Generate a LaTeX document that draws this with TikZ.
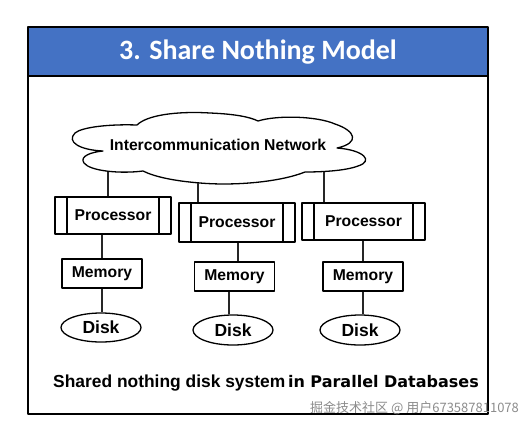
\documentclass[tikz,border=0pt]{standalone}
\usepackage{fontspec}
\setmainfont{Liberation Sans}
\newfontfamily\titlefont{Carlito}
\newfontfamily\dejavu{DejaVu Sans}
\newfontfamily\cjkfont{Noto Sans CJK SC}
\usetikzlibrary{shapes.geometric}
\definecolor{bandblue}{HTML}{4472C4}
\begin{document}
\begin{tikzpicture}[x=1pt,y=-1pt,
  line join=round,
  boxline/.style={draw=black, line width=1.3pt},
  lbl/.style={font=\bfseries\fontsize{15.7}{18}\selectfont},
  procbox/.style={boxline, rectangle, inner sep=0pt, lbl,
    minimum height=37pt,
    path picture={
      \draw[line width=1.3pt] ([xshift=12pt]path picture bounding box.north west) -- ([xshift=12pt]path picture bounding box.south west);
      \draw[line width=1.3pt] ([xshift=-12pt]path picture bounding box.north east) -- ([xshift=-12pt]path picture bounding box.south east);
    }},
  membox/.style={boxline, rectangle, inner sep=0pt, lbl, minimum width=80pt, minimum height=29pt},
  diskbox/.style={boxline, ellipse, inner sep=0pt, font=\bfseries\fontsize{17.5}{20}\selectfont, minimum width=80pt, minimum height=29pt},
  wire/.style={draw=black!85, line width=1.2pt}
]
\useasboundingbox (0,0) rectangle (526,429);
% frame and title band
\fill[white] (28,27) rectangle (488,414);
\fill[bandblue] (28,27) rectangle (488,76);
\draw[line width=1.5pt] (28,76) -- (488,76);
\draw[line width=1.5pt] (28,27) rectangle (488,414);
\node[text=white, font=\titlefont\bfseries\fontsize{28}{32}\selectfont] (title) at (258,52) {3. Share Nothing Model};

% cloud
\draw[line width=1.3pt, fill=white]
  (103,151) .. controls (80,150) and (66,142) .. (75,133)
  .. controls (82,127) and (110,124) .. (137,125)
  .. controls (147,115) and (177,111) .. (210,113)
  .. controls (235,114) and (250,117) .. (258,121)
  .. controls (277,115) and (317,116) .. (335,124)
  .. controls (356,131) and (360,143) .. (337,148)
  .. controls (364,150) and (374,161) .. (358,166)
  .. controls (345,171) and (320,172) .. (305,172)
  .. controls (280,182) and (235,186) .. (200,183)
  .. controls (175,181) and (155,177) .. (143,171)
  .. controls (120,174) and (90,171) .. (84,163)
  .. controls (79,156) and (92,152) .. (103,151) -- cycle;
\node[lbl] (net) at (218,145) {Intercommunication Network};
\coordinate (c1) at (108,172);
\coordinate (c2) at (198,183);
\coordinate (c3) at (324,172);

% processors
\node[procbox, minimum width=116pt] (p1) at (113,215.5) {Processor};
\node[procbox, minimum width=116pt, minimum height=39pt] (p2) at (237,222.5) {Processor};
\node[procbox, minimum width=123pt] (p3) at (363.5,221.5) {Processor};

% memories
\node[membox] (m1) at (102,273.5) {Memory};
\node[membox] (m2) at (234.5,276.5) {Memory};
\node[membox] (m3) at (363,276.5) {Memory};

% disks
\node[diskbox] (d1) at (101,327.5) {Disk};
\node[diskbox, minimum height=30pt] (d2) at (233,330) {Disk};
\node[diskbox, minimum height=30pt] (d3) at (360,330) {Disk};

% connectors
\draw[wire] (c1) -- (c1 |- p1.north);
\draw[wire] (c2) -- (c2 |- p2.north);
\draw[wire] (c3) -- (c3 |- p3.north);
\draw[wire] (m1.north |- p1.south) -- (m1.north);
\draw[wire] ([xshift=3.5pt]m2.north |- p2.south) -- ([xshift=3.5pt]m2.north);
\draw[wire] (m3.north |- p3.south) -- (m3.north);
\draw[wire] (m1.south) -- (m1.south |- d1.north);
\draw[wire] ([xshift=-5.5pt]m2.south) -- ([xshift=-5.5pt]m2.south |- d2.north);
\draw[wire] (m3.south) -- (m3.south |- d3.north);

% caption
\node[anchor=west, inner sep=0pt] (cap) at (53,383)
  {{\bfseries\fontsize{17.4}{20}\selectfont Shared nothing disk system} {\dejavu\bfseries\fontsize{16}{18}\selectfont in Parallel Databases}};

% watermark
\node[anchor=west, inner sep=0pt, text=black!45, font=\cjkfont\fontsize{13}{15}\selectfont] (wm) at (310,408) {掘金技术社区 @ 用户673587811078};
\end{tikzpicture}
\end{document}
